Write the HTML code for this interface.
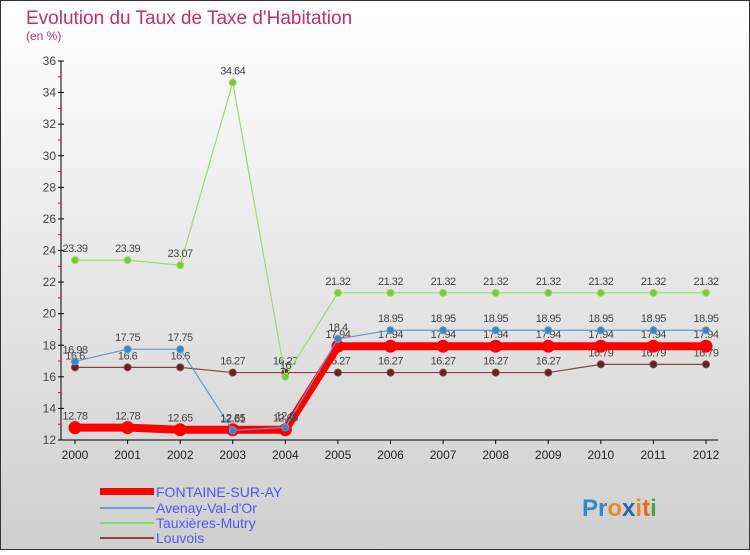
<!DOCTYPE html>
<html><head><meta charset="utf-8"><style>
body{margin:0;width:750px;height:550px;overflow:hidden;font-family:"Liberation Sans",sans-serif}
</style></head><body>
<svg id="c" width="750" height="550" xmlns="http://www.w3.org/2000/svg">
<defs><linearGradient id="bg" x1="0" y1="0" x2="0" y2="1"><stop offset="0" stop-color="#ffffff"/><stop offset="1" stop-color="#cfcfcf"/></linearGradient></defs>
<rect x="0.5" y="0.5" width="749" height="549" fill="url(#bg)" stroke="#333"/>
<text x="26" y="24" font-size="19" fill="#c0306a">Evolution du Taux de Taxe d'Habitation</text>
<text x="26" y="40" font-size="12" fill="#c0306a">(en %)</text>
<g id="plot"></g>
<g>
<rect x="100" y="488" width="54" height="7" fill="#f00"/>
<text x="156" y="497" font-size="14" fill="#5555ee">FONTAINE-SUR-AY</text>
<line x1="100" y1="508" x2="154" y2="508" stroke="#6699cc" stroke-width="2"/>
<text x="156" y="513" font-size="14" fill="#5555ee">Avenay-Val-d'Or</text>
<line x1="100" y1="523" x2="154" y2="523" stroke="#88dd66" stroke-width="2"/>
<text x="156" y="528" font-size="14" fill="#5555ee">Tauxières-Mutry</text>
<line x1="100" y1="538" x2="154" y2="538" stroke="#884444" stroke-width="2"/>
<text x="156" y="543" font-size="14" fill="#5555ee">Louvois</text>
</g>
<text x="582" y="516" font-size="24" font-weight="bold"><tspan fill="#3388cc">Pr</tspan><tspan fill="#ee8822">o</tspan><tspan fill="#2266bb">x</tspan><tspan fill="#ee8822">i</tspan><tspan fill="#ee6622">t</tspan><tspan fill="#44aa33">i</tspan></text>
</svg>
<script>
const years=[2000,2001,2002,2003,2004,2005,2006,2007,2008,2009,2010,2011,2012];
const fontaine=[12.78,12.78,12.65,12.65,12.65,17.94,17.94,17.94,17.94,17.94,17.94,17.94,17.94];
const avenay=[16.98,17.75,17.75,12.61,12.8,18.4,18.95,18.95,18.95,18.95,18.95,18.95,18.95];
const tauxieres=[23.39,23.39,23.07,34.64,16,21.32,21.32,21.32,21.32,21.32,21.32,21.32,21.32];
const louvois=[16.6,16.6,16.6,16.27,16.27,16.27,16.27,16.27,16.27,16.27,16.79,16.79,16.79];
const yTicks=[12,14,16,18,20,22,24,26,28,30,32,34,36];
const NS="http://www.w3.org/2000/svg";
const g=document.getElementById('plot');
const X=i=>75+i*(631/12);
const Y=v=>440-(v-12)*(379/24);
function mk(t,a){const e=document.createElementNS(NS,t);for(const k in a)e.setAttribute(k,a[k]);g.appendChild(e);return e;}
let ax=mk('line',{x1:61,y1:Y(36),x2:61,y2:440,stroke:'#000'});


let bx=mk('line',{x1:61,y1:440,x2:718,y2:440,stroke:'#000'});


yTicks.forEach(v=>{
 mk('line',{x1:58,y1:Y(v),x2:64,y2:Y(v),stroke:'#000'});
 if(v<36)mk('line',{x1:58,y1:Y(v+1),x2:61,y2:Y(v+1),stroke:'#f00'});
 const t=mk('text',{x:56,y:Y(v)+4,'font-size':12,'text-anchor':'end',fill:'#444'});t.textContent=v;
 
 
});
years.forEach((y,i)=>{
 mk('line',{x1:X(i),y1:440,x2:X(i),y2:444,stroke:'#000'});
 const t=mk('text',{x:X(i),y:459,'font-size':12,'text-anchor':'middle',fill:'#222'});t.textContent=y;
 
 
});
function series(d,col,w,r,dot,name){
 const p=mk('polyline',{points:d.map((v,i)=>X(i)+','+Y(v)).join(' '),fill:'none',stroke:col,'stroke-width':w});
 
 
 d.forEach((v,i)=>{const c=mk('circle',{cx:X(i),cy:Y(v),r:r,fill:dot,stroke:col,'stroke-width':1});
  
  
  const t=mk('text',{x:X(i),y:Y(v)-8,'font-size':11,'text-anchor':'middle',fill:'#444','letter-spacing':'-0.5'});t.textContent=v;
  
  
 });
}
series(louvois,'#884444',1.2,3.5,'#662222','louvois');
series(tauxieres,'#99dd66',1.2,3.5,'#77cc33','tauxieres');
series(fontaine,'#ff0000',8,6,'#ff0000','fontaine');
series(avenay,'#6699cc',1.2,3.5,'#3388cc','avenay');
</script>
</body></html>
